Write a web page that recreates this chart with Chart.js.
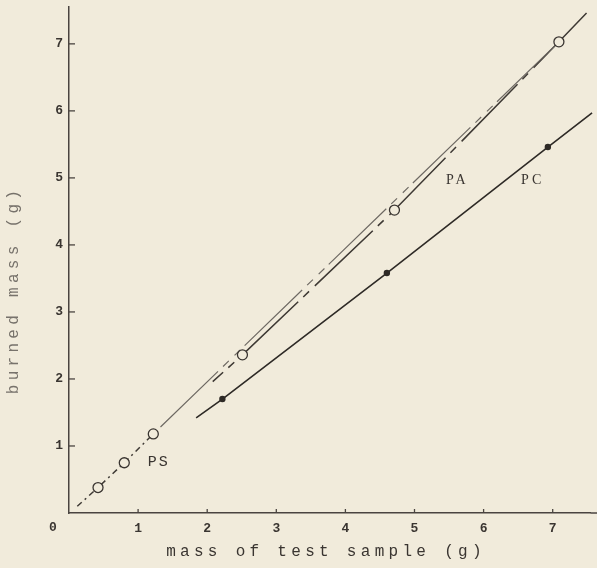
<!DOCTYPE html>
<html><head><meta charset="utf-8">
<script src="https://cdn.jsdelivr.net/npm/chart.js@4/dist/chart.umd.min.js"></script>
<style>html,body{margin:0;padding:0;background:#f1ebdb;}#wrap{width:597px;height:568px;position:relative;}</style>
</head><body><div id="wrap"><canvas id="c"></canvas></div>
<script>
// ---- data ----
const xTicks = [1, 2, 3, 4, 5, 6, 7];
const yTicks = [1, 2, 3, 4, 5, 6, 7];
// PS measured points (open circles)
const psMass   = [0.42, 0.80, 1.22];
const psBurned = [0.38, 0.75, 1.18];
// PA measured points (open circles)
const paMass   = [2.51, 4.71, 7.09];
const paBurned = [2.36, 4.52, 7.03];
// PC measured points (filled dots)
const pcMass   = [2.22, 4.60, 6.93];
const pcBurned = [1.70, 3.58, 5.46];
// drawn curves
const psLowMass   = [0.12, 0.42, 0.80, 1.22];
const psLowBurned = [0.10, 0.38, 0.75, 1.18];
const psFitMass   = [1.22, 7.09];
const psFitBurned = [1.18, 7.03];
const paFitMass   = [2.08, 2.51, 4.71, 7.09, 7.49];
const paFitBurned = [1.96, 2.36, 4.52, 7.03, 7.46];
const pcFitMass   = [1.84, 2.22, 4.60, 6.93, 7.57];
const pcFitBurned = [1.42, 1.70, 3.58, 5.46, 5.97];
// curve labels
const labelTexts  = ['PS', 'PA', 'PC'];
const labelMass   = [1.30, 5.62, 6.71];
const labelBurned = [0.76, 4.97, 4.97];

const BG = '#f1ebdb';
const INK = '#3a3531';
const pts = (xs, ys) => xs.map((x, i) => ({x, y: ys[i]}));

const decor = {
  id: 'decor',
  beforeDraw(chart) {
    const c = chart.ctx;
    c.save(); c.fillStyle = BG; c.fillRect(0, 0, chart.width, chart.height); c.restore();
  },
  afterDraw(chart) {
    const c = chart.ctx, a = chart.chartArea, xs = chart.scales.x, ys = chart.scales.y;
    c.save();
    c.strokeStyle = '#4a4440'; c.lineWidth = 1.5;
    // extend the x axis line to the page edge as in the scan
    c.beginPath(); c.moveTo(a.right, a.bottom); c.lineTo(chart.width, a.bottom); c.stroke();
    c.lineWidth = 1.3;
    xTicks.forEach(v => { const p = xs.getPixelForValue(v); c.beginPath(); c.moveTo(p, a.bottom); c.lineTo(p, a.bottom - 4); c.stroke(); });
    yTicks.forEach(v => { const p = ys.getPixelForValue(v); c.beginPath(); c.moveTo(a.left, p); c.lineTo(a.left + 6, p); c.stroke(); });
    // origin label
    c.fillStyle = INK; c.textAlign = 'center'; c.textBaseline = 'middle';
    c.font = 'bold 13px "Liberation Mono"';
    c.fillText('0', a.left - 16, a.bottom + 15);
    // curve labels
    labelTexts.forEach((t, i) => {
      c.font = i === 0 ? '15px "Liberation Mono"' : '14px "Liberation Serif"';
      c.letterSpacing = i === 0 ? '2px' : '3px';
      c.fillText(t, xs.getPixelForValue(labelMass[i]), ys.getPixelForValue(labelBurned[i]));
    });
    // axis titles
    c.font = '16px "Liberation Mono"';
    c.letterSpacing = '4.3px';
    c.fillStyle = INK;
    c.fillText('mass of test sample (g)', 326, 552);
    c.save();
    c.translate(14, 290); c.rotate(-Math.PI / 2);
    c.fillStyle = '#77726b';
    c.fillText('burned mass (g)', 0, 0);
    c.restore();
    c.restore();
  }
};

const tickFont = {family: '"Liberation Mono"', size: 13, weight: 'bold'};
const intLabel = v => (v > 0 && Number.isInteger(v)) ? String(v) : '';

new Chart(document.getElementById('c'), {
  type: 'scatter',
  data: {
    datasets: [
      {label: 'PS', data: pts(psMass, psBurned), pointRadius: 5, pointBorderWidth: 1.3, pointBorderColor: INK, pointBackgroundColor: BG, showLine: false, order: 0},
      {label: 'PA', data: pts(paMass, paBurned), pointRadius: 5, pointBorderWidth: 1.3, pointBorderColor: INK, pointBackgroundColor: BG, showLine: false, order: 0},
      {label: 'PC', data: pts(pcMass, pcBurned), pointRadius: 3.2, pointBorderWidth: 0, pointBackgroundColor: '#2e2a26', showLine: false, order: 0},
      {label: 'PS low', data: pts(psLowMass, psLowBurned), showLine: true, pointRadius: 0, borderColor: '#3f3a35', borderWidth: 1.5, borderDash: [6, 4, 2, 4], order: 1},
      {label: 'PS fit', data: pts(psFitMass, psFitBurned), showLine: true, pointRadius: 0, borderColor: '#6e6963', borderWidth: 1.2, borderDash: [80, 7, 8, 8, 8, 6], borderDashOffset: 107, order: 1},
      {label: 'PA fit', data: pts(paFitMass, paFitBurned), showLine: true, pointRadius: 0, borderColor: '#3d3833', borderWidth: 1.5, borderDash: [80, 7, 8, 8], borderDashOffset: 66, order: 1, clip: false},
      {label: 'PC fit', data: pts(pcFitMass, pcFitBurned), showLine: true, pointRadius: 0, borderColor: '#2e2a26', borderWidth: 1.6, order: 1, clip: false}
    ]
  },
  options: {
    responsive: true, maintainAspectRatio: false, animation: false,
    layout: {padding: {top: 7, right: 0, left: 0, bottom: 0}},
    plugins: {legend: {display: false}, tooltip: {enabled: false}},
    scales: {
      x: {
        type: 'linear', min: 0, max: 7.55,
        grid: {display: false, drawTicks: false},
        border: {display: true, color: '#4a4440', width: 1.5},
        ticks: {stepSize: 1, includeBounds: false, autoSkip: false, maxRotation: 0, padding: 8, color: INK, font: tickFont, callback: intLabel},
        afterFit(s) { s.height = 55; s.paddingLeft = 0; s.paddingRight = 0; }
      },
      y: {
        type: 'linear', min: 0, max: 7.55,
        grid: {display: false, drawTicks: false},
        border: {display: true, color: '#4a4440', width: 1.5},
        ticks: {stepSize: 1, includeBounds: false, autoSkip: false, padding: 6, color: INK, font: tickFont, callback: intLabel},
        afterFit(s) { s.width = 69; s.paddingTop = 0; s.paddingBottom = 0; }
      }
    }
  },
  plugins: [decor]
});
</script>
</body></html>
